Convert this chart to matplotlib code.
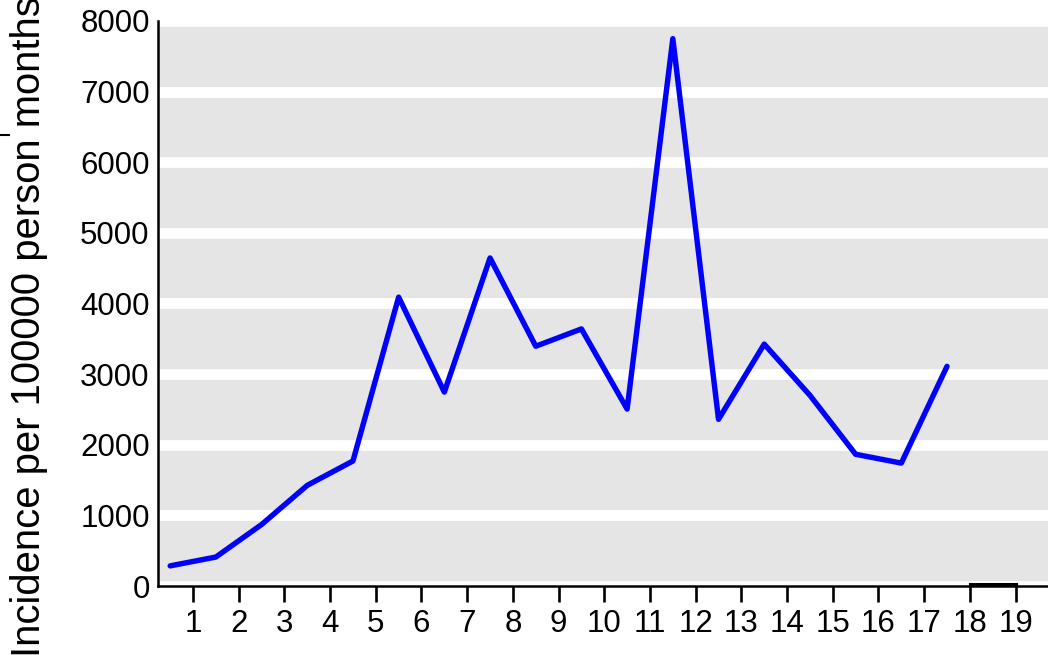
import matplotlib
matplotlib.use("Agg")
import matplotlib.pyplot as plt
from matplotlib.lines import Line2D

plt.rcParams['font.family'] = ['Liberation Sans', 'DejaVu Sans']

# data
x_vals = [0.5, 1.5, 2.5, 3.5, 4.5, 5.5, 6.5, 7.5, 8.5, 9.5,
          10.5, 11.5, 12.5, 13.5, 14.5, 15.5, 16.5, 17.5]
incidence = [285, 410, 870, 1425, 1770, 4090, 2745, 4645, 3395, 3640,
             2505, 7750, 2360, 3425, 2700, 1865, 1740, 3110]
zero_x = [18, 19]
zero_y = [35, 35]
x_ticks = list(range(1, 20))
y_ticks = list(range(0, 8001, 1000))

W, H = 1048, 655
fig = plt.figure(figsize=(W / 100, H / 100), dpi=100)
ax = fig.add_axes([158 / W, 1 - 586 / H, 1 - 158 / W, (586 - 21) / H])

ax.set_facecolor('#e5e5e5')
ax.set_axisbelow(True)
ax.yaxis.grid(True, color='white', linewidth=7.8)
ax.xaxis.grid(False)

ax.plot(x_vals, incidence, color='#0000ff', linewidth=3.9,
        solid_capstyle='round', solid_joinstyle='round', zorder=3)
ax.plot(zero_x, zero_y, color='black', linewidth=2.2, clip_on=False, zorder=3)

ax.set_xlim(0.234, 19.71)
ax.set_ylim(0, 8000)
ax.set_xticks(x_ticks)
ax.set_yticks(y_ticks)

for s in ['top', 'right']:
    ax.spines[s].set_visible(False)
for s in ['left', 'bottom']:
    ax.spines[s].set_linewidth(1.8)
    ax.spines[s].set_color('black')

ax.tick_params(axis='x', length=11.5, width=1.9, labelsize=22.5, pad=5, colors='black')
ax.tick_params(axis='y', length=0, labelsize=22.5, pad=6, colors='black')

# the reference label runs past both edges of the picture
fig.text(29 / W, 1 - 327 / H, 'Incidence per 100000 person months',
         rotation=90, ha='center', va='center', fontsize=28.8)

# stray tick at the top left corner
fig.add_artist(Line2D([0, 9 / W], [1 - 135 / H, 1 - 135 / H],
                      transform=fig.transFigure, color='black', linewidth=1.5))

fig.savefig('out.png', dpi=100)
